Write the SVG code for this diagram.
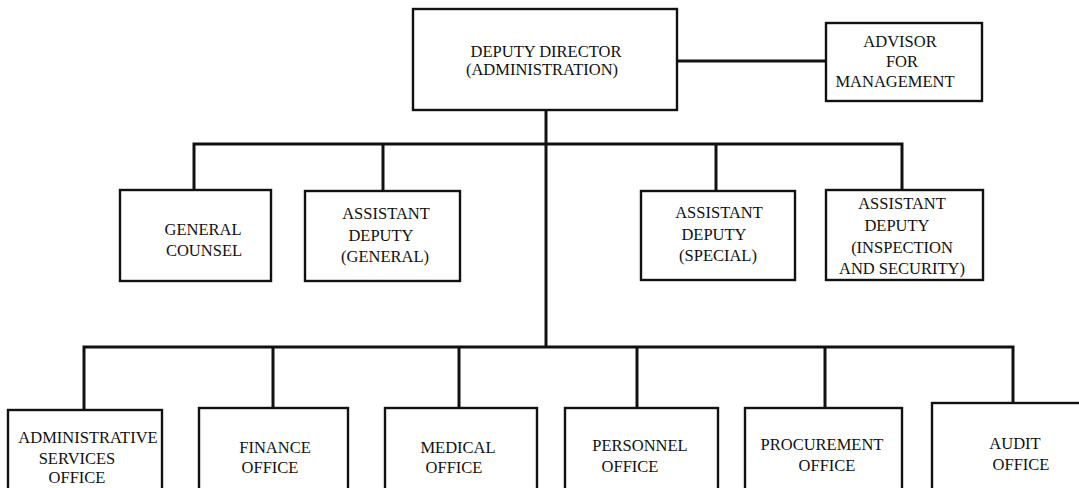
<svg xmlns="http://www.w3.org/2000/svg" width="1079" height="488" viewBox="0 0 1079 488">
<style>
.box{fill:#fff;stroke:#111;stroke-width:2.4}
.c{fill:none;stroke:#111;stroke-width:3}
text{font-family:"Liberation Serif","Times New Roman",serif;font-size:16.5px;fill:#111;text-anchor:middle}
</style>
<rect width="1079" height="488" fill="#fff"/>
<g id="connectors">
<line class="c" x1="677" y1="61" x2="826" y2="61"/>
<line class="c" x1="546" y1="110" x2="546" y2="347"/>
<polyline class="c" points="194,190 194,144 902,144 902,190"/>
<line class="c" x1="383" y1="144" x2="383" y2="191"/>
<line class="c" x1="716" y1="144" x2="716" y2="191"/>
<polyline class="c" points="84,410 84,347 1013,347 1013,403"/>
<line class="c" x1="273" y1="347" x2="273" y2="408"/>
<line class="c" x1="459" y1="347" x2="459" y2="408"/>
<line class="c" x1="637" y1="347" x2="637" y2="408"/>
<line class="c" x1="825" y1="347" x2="825" y2="408"/>
</g>
<g id="deputy-director">
<rect class="box" x="413" y="9" width="264" height="101"/>
<text x="546" y="57">DEPUTY DIRECTOR</text>
<text x="542" y="75">(ADMINISTRATION)</text>
</g>
<g id="advisor">
<rect class="box" x="826" y="23" width="156" height="78"/>
<text x="900" y="47">ADVISOR</text>
<text x="902" y="67">FOR</text>
<text x="895" y="87">MANAGEMENT</text>
</g>
<g id="general-counsel">
<rect class="box" x="120" y="190" width="151" height="91"/>
<text x="203" y="235">GENERAL</text>
<text x="204" y="256">COUNSEL</text>
</g>
<g id="asst-general">
<rect class="box" x="305" y="191" width="155" height="90"/>
<text x="386" y="219">ASSISTANT</text>
<text x="381" y="241">DEPUTY</text>
<text x="385" y="262">(GENERAL)</text>
</g>
<g id="asst-special">
<rect class="box" x="641" y="191" width="154" height="89"/>
<text x="719" y="218">ASSISTANT</text>
<text x="714" y="240">DEPUTY</text>
<text x="718" y="261">(SPECIAL)</text>
</g>
<g id="asst-inspection">
<rect class="box" x="826" y="190" width="157" height="90"/>
<text x="902" y="209">ASSISTANT</text>
<text x="897" y="231">DEPUTY</text>
<text x="902" y="253">(INSPECTION</text>
<text x="902" y="274">AND SECURITY)</text>
</g>
<g id="admin-services">
<rect class="box" x="8" y="410" width="154" height="82"/>
<text x="88" y="443">ADMINISTRATIVE</text>
<text x="77" y="464">SERVICES</text>
<text x="77" y="483">OFFICE</text>
</g>
<g id="finance">
<rect class="box" x="199" y="408" width="149" height="84"/>
<text x="275" y="453">FINANCE</text>
<text x="270" y="473">OFFICE</text>
</g>
<g id="medical">
<rect class="box" x="385" y="408" width="152" height="84"/>
<text x="458" y="453">MEDICAL</text>
<text x="454" y="473">OFFICE</text>
</g>
<g id="personnel">
<rect class="box" x="565" y="408" width="153" height="84"/>
<text x="640" y="451">PERSONNEL</text>
<text x="630" y="472">OFFICE</text>
</g>
<g id="procurement">
<rect class="box" x="745" y="408" width="157" height="84"/>
<text x="822" y="450">PROCUREMENT</text>
<text x="827" y="471">OFFICE</text>
</g>
<g id="audit">
<rect class="box" x="932" y="403" width="160" height="89"/>
<text x="1015" y="449">AUDIT</text>
<text x="1021" y="470">OFFICE</text>
</g>
</svg>
